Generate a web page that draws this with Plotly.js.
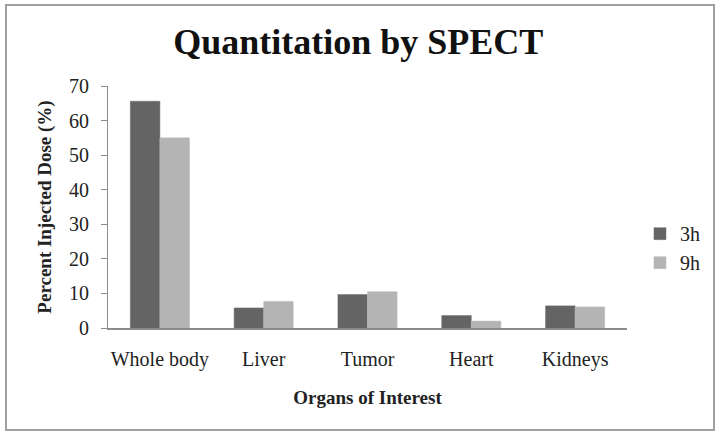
<!DOCTYPE html>
<html>
<head>
<meta charset="utf-8">
<script src="https://cdn.plot.ly/plotly-3.0.1.min.js"></script>
<style>
  body { margin: 0; background: #fff; }
  #chart { position: relative; width: 721px; height: 438px; }
  #frame { position: absolute; left: 5px; top: 4px; width: 706px; height: 423px;
           border: 2px solid #a0a0a0; pointer-events: none; }
</style>
</head>
<body>
<div id="chart"><div id="frame"></div></div>
<script>
// organs on the x axis
var organs = ['Whole body', 'Liver', 'Tumor', 'Heart', 'Kidneys'];
// percent injected dose at each time point
var dose3h = [65.6, 5.8, 9.7, 3.6, 6.4];
var dose9h = [55.0, 7.7, 10.5, 2.0, 6.1];
var yTicks = [0, 10, 20, 30, 40, 50, 60, 70];

var serif = 'Liberation Serif, Times New Roman, serif';

var trace3h = {
  x: organs, y: dose3h, name: '3h', type: 'bar',
  marker: {color: '#646464', line: {color: '#6e6e6e', width: 0.5}}
};
var trace9h = {
  x: organs, y: dose9h, name: '9h', type: 'bar',
  marker: {color: '#b4b4b4', line: {color: '#bcbcbc', width: 0.5}}
};

var layout = {
  width: 721, height: 438,
  margin: {l: 108, r: 94, t: 86, b: 110},
  paper_bgcolor: 'rgba(0,0,0,0)',
  plot_bgcolor: '#fff',
  font: {family: serif, size: 19, color: '#222'},
  title: {
    text: '<b>Quantitation by SPECT</b>',
    font: {family: serif, size: 36, color: '#111'},
    x: 0.497, xanchor: 'center', y: 0.905, yanchor: 'middle'
  },
  barmode: 'group',
  bargap: 0.43,
  bargroupgap: 0,
  showlegend: true,
  legend: {
    x: 1.025, y: 0.33, xanchor: 'left', yanchor: 'middle',
    font: {family: serif, size: 20, color: '#222'},
    tracegroupgap: 14, itemwidth: 30
  },
  xaxis: {
    showline: true, linecolor: '#8c8c8c', linewidth: 1.5,
    ticks: 'outside', ticklen: 12, tickcolor: 'rgba(0,0,0,0)',
    tickfont: {family: serif, size: 20},
    title: {text: '<b>Organs of Interest</b>', font: {family: serif, size: 19, color: '#222'}, standoff: 21},
    showgrid: false, zeroline: false
  },
  yaxis: {
    range: [0, 70], tickvals: yTicks,
    showline: true, linecolor: '#8c8c8c', linewidth: 1,
    ticks: 'outside', ticklen: 6, tickcolor: '#8c8c8c',
    ticklabelstandoff: 8,
    tickfont: {family: serif, size: 20},
    title: {text: '<b>Percent Injected Dose (%)</b>', font: {family: serif, size: 19, color: '#222'}, standoff: 12},
    showgrid: false, zeroline: false
  }
};

Plotly.newPlot('chart', [trace3h, trace9h], layout, {displayModeBar: false, staticPlot: true});
</script>
</body>
</html>
